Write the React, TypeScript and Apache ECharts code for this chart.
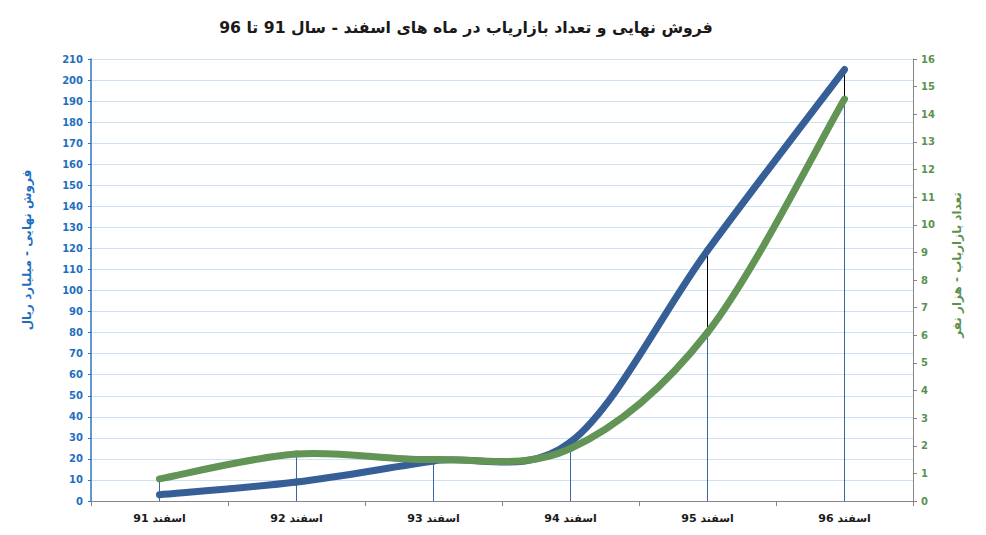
import React, { useEffect, useRef } from "react";
import * as echarts from "echarts";

const categories = ["اسفند 91", "اسفند 92", "اسفند 93", "اسفند 94", "اسفند 95", "اسفند 96"];
const salesValues = [3, 9, 19, 28, 119, 205];
const marketerValues = [0.8, 1.7, 1.5, 1.9, 6.1, 14.55];
const leftTicks = { min: 0, max: 210, interval: 10 };
const rightTicks = { min: 0, max: 16, interval: 1 };

const titleText = "فروش نهایی و تعداد بازاریاب در ماه های اسفند - سال 91 تا 96";
const leftName = "فروش نهایی - میلیارد ریال";
const rightName = "تعداد بازاریاب - هزار نفر";

const BLUE = "#375f97";
const GREEN = "#619455";
const FONT = "DejaVu Sans";

// Segment table for a smoothed (Catmull-Rom) line: each row holds the
// neighbouring values needed to draw the curve between point i and i+1.
function segments(values: number[]) {
  const n = values.length;
  const rows: number[][] = [];
  for (let i = 0; i < n - 1; i++) {
    const p = Math.max(i - 1, 0);
    const q = Math.min(i + 2, n - 1);
    rows.push([i, p, values[p], values[i], values[i + 1], q, values[q]]);
  }
  return rows;
}

function smoothRender(color: string) {
  return (params: any, api: any) => {
    const i = api.value(0);
    const p0 = api.coord([api.value(1), api.value(2)]);
    const p1 = api.coord([i, api.value(3)]);
    const p2 = api.coord([i + 1, api.value(4)]);
    const p3 = api.coord([api.value(5), api.value(6)]);
    return {
      type: "bezierCurve",
      shape: {
        x1: p1[0],
        y1: p1[1],
        x2: p2[0],
        y2: p2[1],
        cpx1: p1[0] + (p2[0] - p0[0]) / 6,
        cpy1: p1[1] + (p2[1] - p0[1]) / 6,
        cpx2: p2[0] - (p3[0] - p1[0]) / 6,
        cpy2: p2[1] - (p3[1] - p1[1]) / 6,
      },
      style: { stroke: color, lineWidth: 7, fill: "none", lineCap: "round", lineJoin: "round" },
    };
  };
}

export default function App() {
  const ref = useRef<HTMLDivElement>(null);
  useEffect(() => {
    const chart = echarts.init(ref.current!, null, { renderer: "svg" });
    const scale = leftTicks.max / rightTicks.max;
    const option: any = {
      animation: false,
      backgroundColor: "#ffffff",
      title: {
        text: titleText,
        left: 453,
        top: 6,
        textAlign: "center",
        textStyle: { fontFamily: FONT, fontWeight: "bold", fontSize: 15.7, color: "#1a1a1a" },
      },
      graphic: [
        {
          type: "text",
          x: 19,
          y: 242,
          rotation: Math.PI / 2,
          style: {
            text: leftName,
            fontFamily: FONT,
            fontWeight: "bold",
            fontSize: 12,
            fill: "#1f6fbf",
            align: "center",
            verticalAlign: "middle",
          },
        },
        {
          type: "text",
          x: 949,
          y: 257,
          rotation: Math.PI / 2,
          style: {
            text: rightName,
            fontFamily: FONT,
            fontWeight: "bold",
            fontSize: 12,
            fill: "#5b9150",
            align: "center",
            verticalAlign: "middle",
          },
        },
      ],
      grid: { left: 83, right: 65, top: 51, bottom: 26 },
      xAxis: {
        type: "category",
        data: categories,
        boundaryGap: true,
        axisLine: { lineStyle: { color: "#868686", width: 1 } },
        axisTick: { show: true, length: 5, lineStyle: { color: "#868686" } },
        axisLabel: { fontFamily: FONT, fontWeight: "bold", fontSize: 11, color: "#1a1a1a", margin: 12 },
        splitLine: { show: false },
      },
      yAxis: [
        {
          type: "value",
          min: leftTicks.min,
          max: leftTicks.max,
          interval: leftTicks.interval,
          position: "left",
          axisLine: { show: true, lineStyle: { color: "#2f74c0", width: 1.5 } },
          axisTick: { show: true, length: 3, lineStyle: { color: "#2f74c0" } },
          axisLabel: { fontFamily: FONT, fontWeight: "bold", fontSize: 10, color: "#1f6fbf", margin: 8 },
          splitLine: { show: true, lineStyle: { color: "#d0e2f2", width: 1 } },
        },
        {
          type: "value",
          min: rightTicks.min,
          max: rightTicks.max,
          interval: rightTicks.interval,
          position: "right",
          axisLine: { show: true, lineStyle: { color: "#868686", width: 1 } },
          axisTick: { show: true, length: 4, lineStyle: { color: "#868686" } },
          axisLabel: { fontFamily: FONT, fontWeight: "bold", fontSize: 10, color: "#5b9150", margin: 8 },
          splitLine: { show: false },
        },
      ],
      series: [
        {
          type: "custom",
          xAxisIndex: 0,
          yAxisIndex: 0,
          z: 1,
          silent: true,
          data: categories.map((c, i) => [i, salesValues[i], marketerValues[i] * scale]),
          renderItem: (params: any, api: any) => {
            const idx = api.value(0);
            const b = api.coord([idx, api.value(1)]);
            const g = api.coord([idx, api.value(2)]);
            const base = api.coord([idx, 0]);
            const children: any[] = [
              {
                type: "line",
                shape: { x1: g[0], y1: g[1], x2: g[0], y2: base[1] },
                style: { stroke: "#3a66a8", lineWidth: 1 },
              },
            ];
            if (b[1] < g[1]) {
              children.push({
                type: "line",
                shape: { x1: b[0], y1: b[1], x2: b[0], y2: g[1] },
                style: { stroke: "#000000", lineWidth: 1 },
              });
            }
            return { type: "group", children };
          },
        },
        {
          name: leftName,
          type: "custom",
          xAxisIndex: 0,
          yAxisIndex: 0,
          z: 3,
          silent: true,
          clip: false,
          data: segments(salesValues),
          renderItem: smoothRender(BLUE),
        },
        {
          name: rightName,
          type: "custom",
          xAxisIndex: 0,
          yAxisIndex: 1,
          z: 4,
          silent: true,
          clip: false,
          data: segments(marketerValues),
          renderItem: smoothRender(GREEN),
        },
      ],
    };
    chart.setOption(option);
    return () => chart.dispose();
  }, []);
  return <div ref={ref} style={{ width: 970, height: 519 }} />;
}
